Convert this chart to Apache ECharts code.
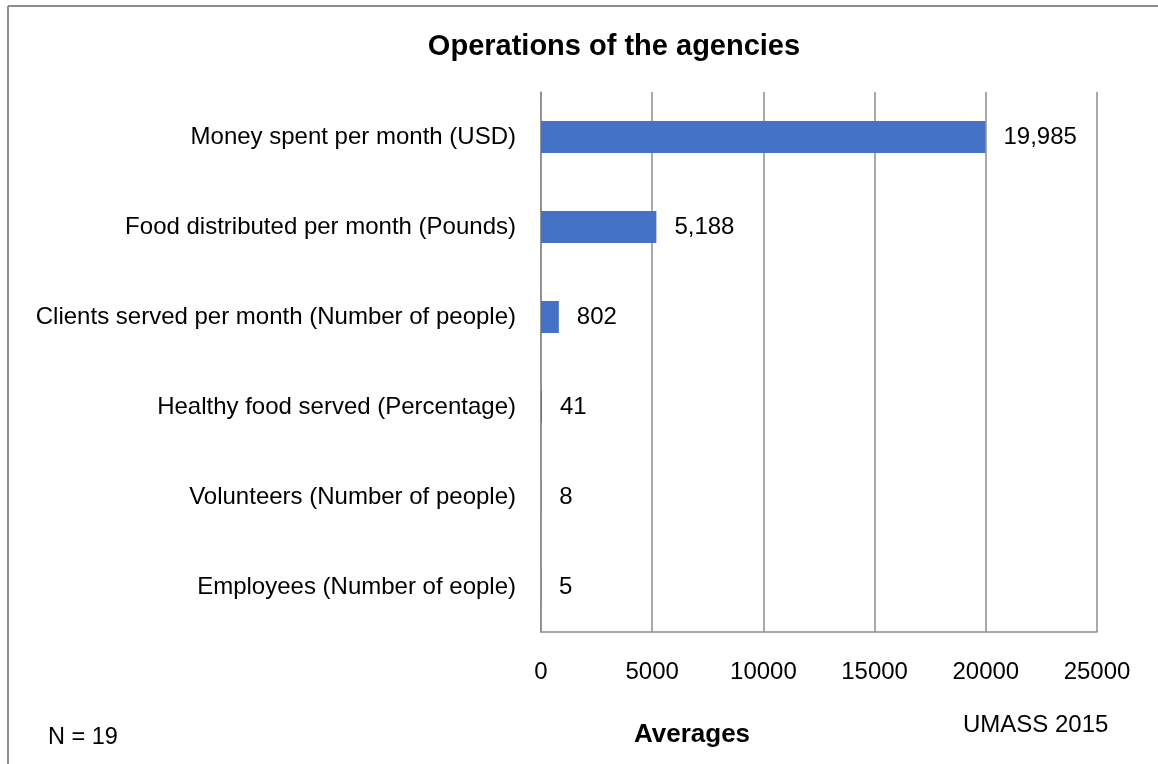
<!DOCTYPE html>
<html>
<head>
<meta charset="utf-8">
<script src="https://cdn.jsdelivr.net/npm/echarts@6/dist/echarts.min.js"></script>
<style>
  html, body { margin: 0; padding: 0; background: #fff; }
  #chart { width: 1158px; height: 764px; }
</style>
</head>
<body>
<div id="chart"></div>
<script>
// Average agency operations (N = 19)
const categories = [
  'Employees (Number of eople)',
  'Volunteers (Number of people)',
  'Healthy food served (Percentage)',
  'Clients served per month (Number of people)',
  'Food distributed per month (Pounds)',
  'Money spent per month (USD)'
];
const averages = [5, 8, 41, 802, 5188, 19985];
const xTicks = [0, 5000, 10000, 15000, 20000, 25000];

const font = 'Liberation Sans, Arial, sans-serif';
const gray = '#8c8c8c';

const chart = echarts.init(document.getElementById('chart'), null, { renderer: 'canvas' });

chart.setOption({
  animation: false,
  backgroundColor: '#fff',
  title: {
    text: 'Operations of the agencies',
    left: 609, top: 27, textAlign: 'center',
    textStyle: { fontFamily: font, fontSize: 29, fontWeight: 'bold', color: '#000' }
  },
  grid: { left: 541, right: 61, top: 92, bottom: 132, containLabel: false },
  xAxis: {
    type: 'value',
    min: xTicks[0], max: xTicks[xTicks.length - 1], interval: xTicks[1] - xTicks[0],
    axisLine: { show: true, lineStyle: { color: gray, width: 1.5 } },
    axisTick: { show: false },
    splitLine: { show: true, lineStyle: { color: gray, width: 1.5 } },
    axisLabel: { margin: 28, fontFamily: font, fontSize: 24, color: '#000', formatter: v => String(v) }
  },
  yAxis: {
    type: 'category',
    data: categories,
    axisLine: { show: true, lineStyle: { color: gray, width: 1.5 } },
    axisTick: { show: false },
    axisLabel: { margin: 25, fontFamily: font, fontSize: 24, color: '#000' }
  },
  series: [{
    type: 'bar',
    data: averages,
    barWidth: 32,
    itemStyle: { color: '#4472C4' },
    label: {
      show: true, position: 'right', distance: 18,
      fontFamily: font, fontSize: 24, color: '#000',
      formatter: p => p.value.toLocaleString('en-US')
    }
  }],
  graphic: [
    { type: 'line', shape: { x1: 8, y1: 6, x2: 1158, y2: 6 }, style: { stroke: gray, lineWidth: 2 } },
    { type: 'line', shape: { x1: 8, y1: 6, x2: 8, y2: 764 }, style: { stroke: gray, lineWidth: 2 } },
    { type: 'text', x: 48, y: 738, style: { text: 'N = 19', font: '23.5px ' + font, fill: '#000', textVerticalAlign: 'middle' } },
    { type: 'text', x: 963, y: 725, style: { text: 'UMASS 2015', font: '24px ' + font, fill: '#000', textVerticalAlign: 'middle' } },
    { type: 'text', x: 692, y: 735, style: { text: 'Averages', font: 'bold 26px ' + font, fill: '#000', textAlign: 'center', textVerticalAlign: 'middle' } }
  ]
});
</script>
</body>
</html>
